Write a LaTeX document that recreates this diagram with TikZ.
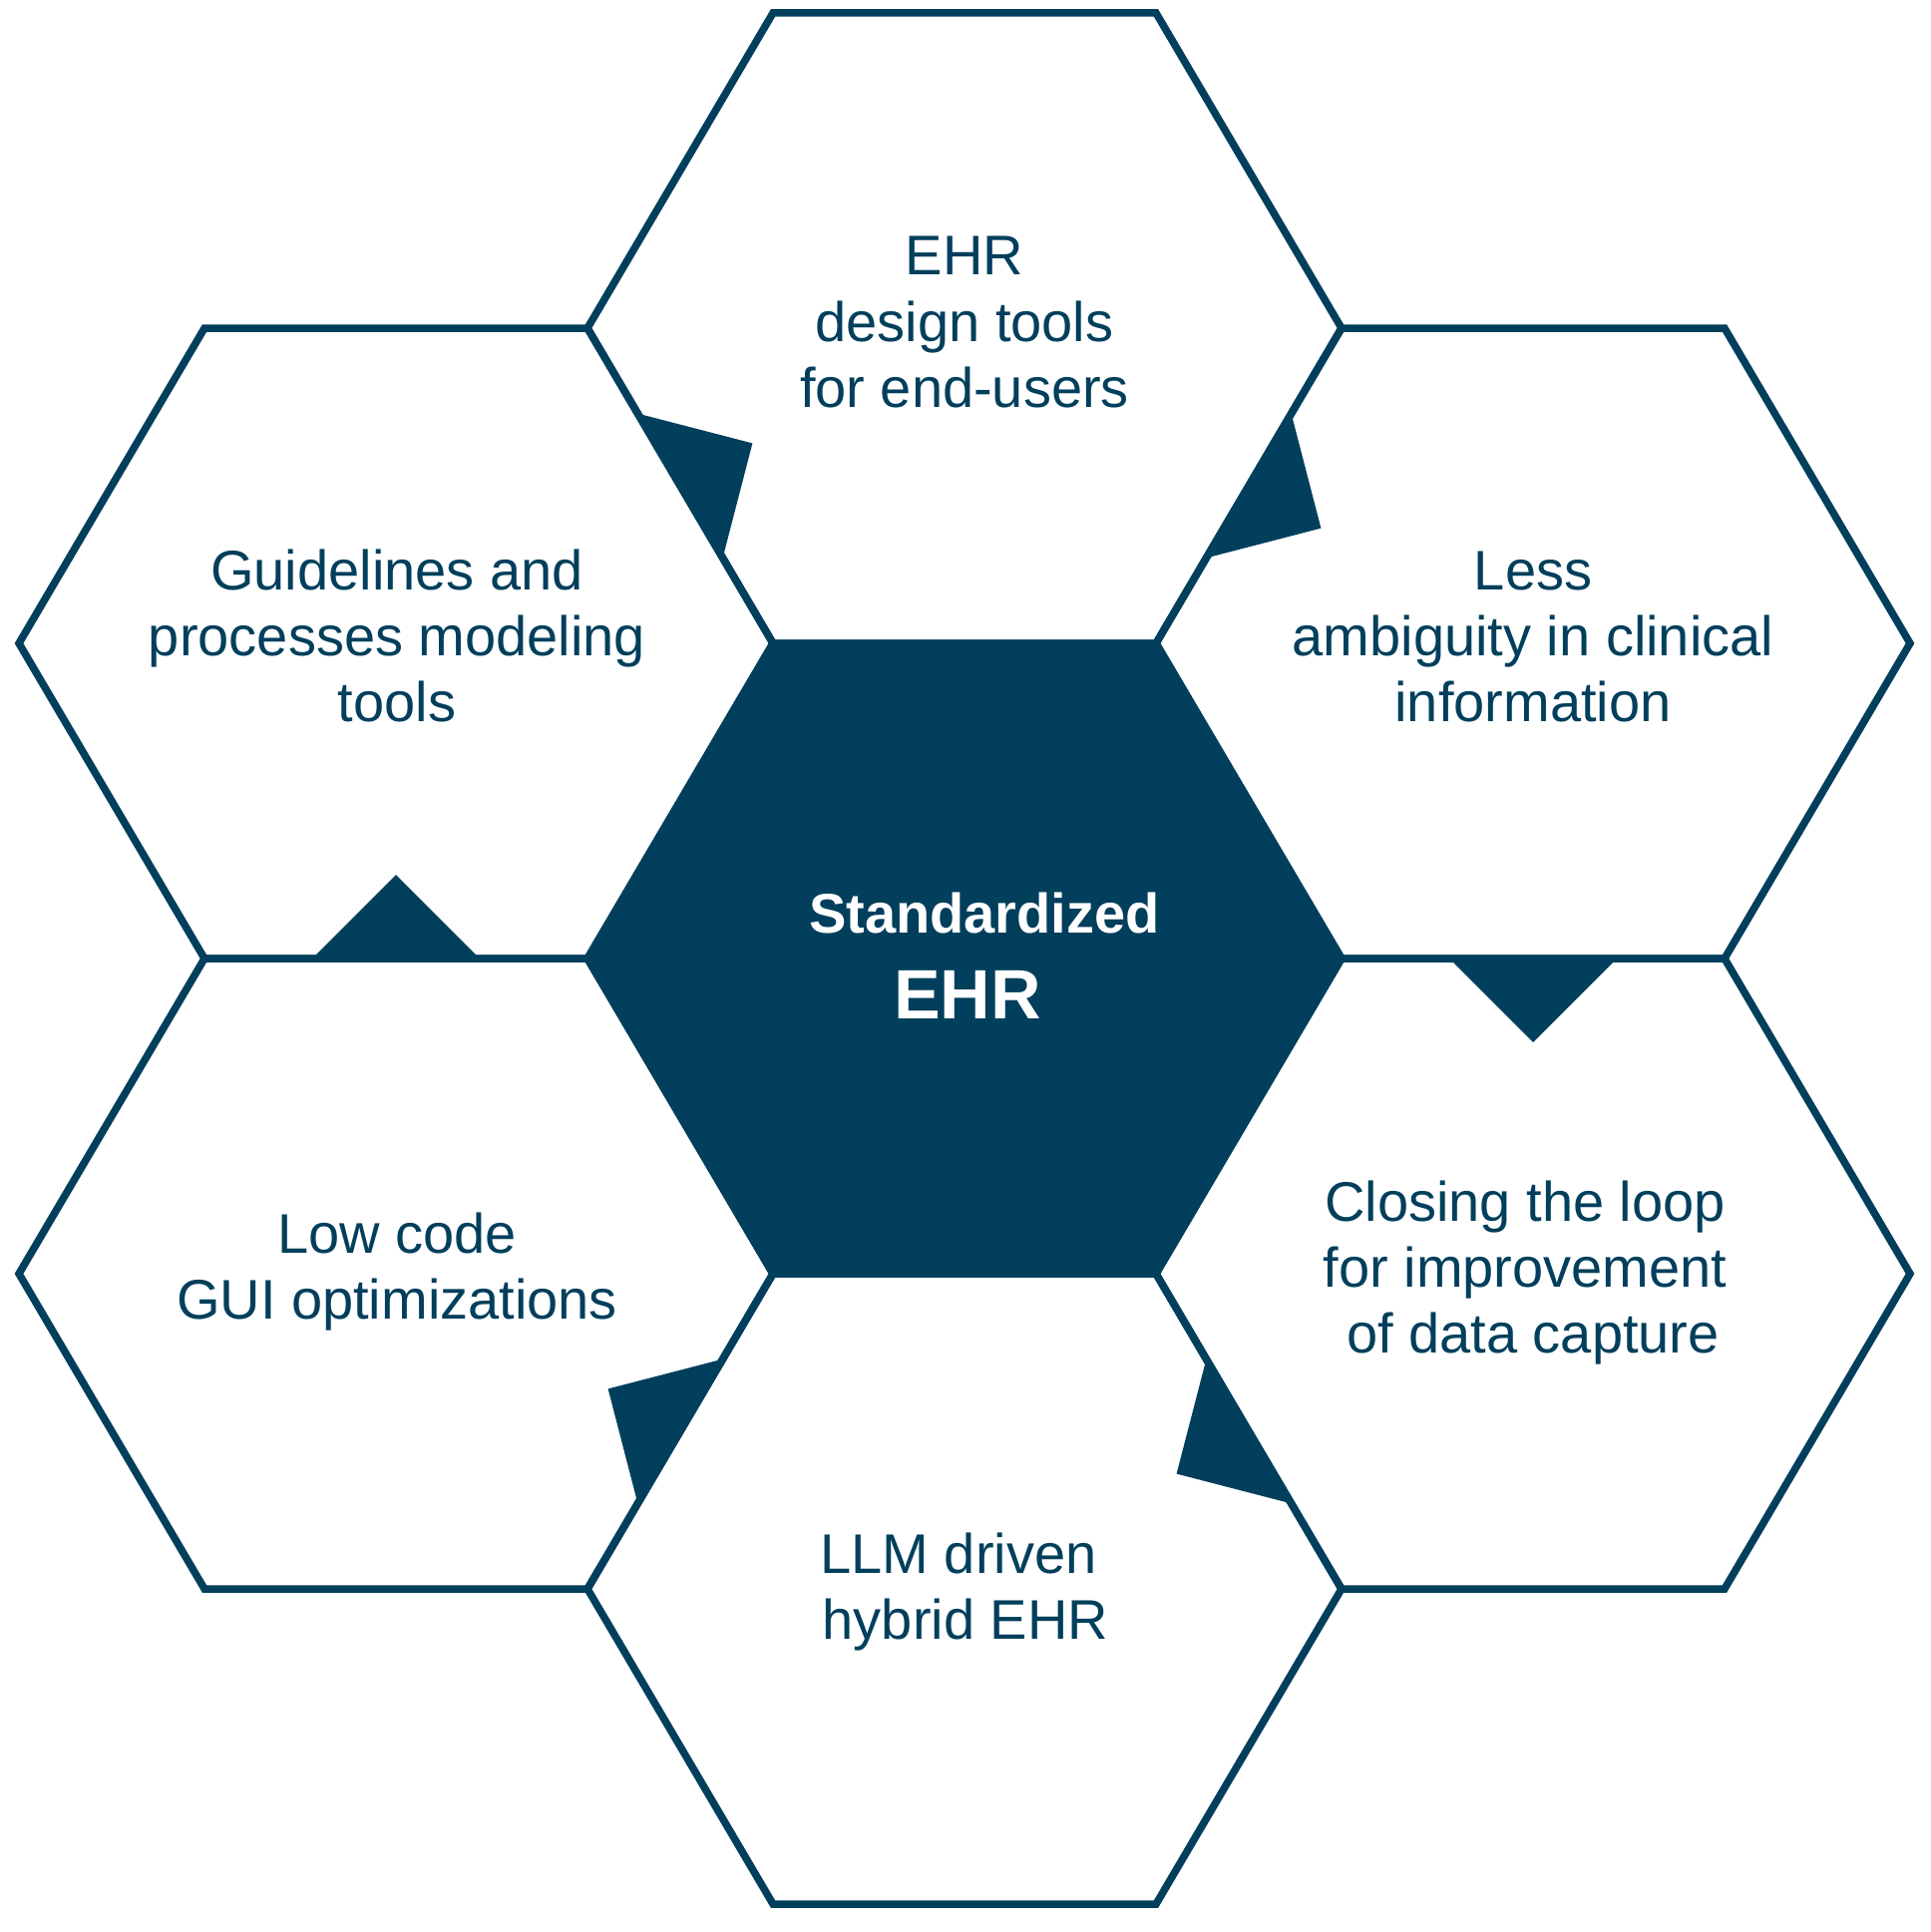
\documentclass[tikz,border=0pt]{standalone}
\usepackage{fontspec}
\setmainfont{Liberation Sans}
\definecolor{ehrblue}{HTML}{013F5C}
\begin{document}
\begin{tikzpicture}[x=1pt,y=-1pt,
  hexline/.style={draw=ehrblue,line width=7.5pt},
  hexfull/.style={draw=ehrblue,fill=ehrblue,line width=7.5pt},
  tab/.style={fill=ehrblue},
  lbl/.style={font=\fontsize{56}{66}\selectfont,text=ehrblue,anchor=base,inner sep=0pt},
  clbl/.style={font=\fontsize{56}{66}\selectfont\bfseries,text=white,anchor=base,inner sep=0pt},
  hexa/.pic={\path[pic actions] (-192,-316) -- (192,-316) -- (378,0) -- (192,316) -- (-192,316) -- (-378,0) -- cycle;}
]
\useasboundingbox (0,0) rectangle (1935,1937);
\fill[white] (0,0) rectangle (1935,1937);
% hexagons
\pic[hexfull] (hc) at (967,961) {hexa};
\pic[hexline] (ht) at (967,329) {hexa};
\pic[hexline] (hb) at (967,1593) {hexa};
\pic[hexline] (hul) at (397,645) {hexa};
\pic[hexline] (hur) at (1537,645) {hexa};
\pic[hexline] (hll) at (397,1277) {hexa};
\pic[hexline] (hlr) at (1537,1277) {hexa};
% tabs
\fill[tab] (639.4,414.6) -- (754.4,444.4) -- (724.6,559.4) -- cycle;
\fill[tab] (1294.6,414.6) -- (1324.4,529.6) -- (1209.4,559.4) -- cycle;
\fill[tab] (1453,961) -- (1537,1045) -- (1621,961) -- cycle;
\fill[tab] (1294.6,1507.4) -- (1179.6,1477.6) -- (1209.4,1362.6) -- cycle;
\fill[tab] (639.4,1507.4) -- (609.6,1392.4) -- (724.6,1362.6) -- cycle;
\fill[tab] (313,961) -- (397,877) -- (481,961) -- cycle;
% texts
\node[lbl] (t1) at (967,275) {EHR};
\node[lbl] (t2) at (967,342) {design tools};
\node[lbl] (t3) at (967,408) {for end-users};
\node[lbl] (ul1) at (398,591) {Guidelines and};
\node[lbl] (ul2) at (398,657) {processes modeling};
\node[lbl] (ul3) at (398,723) {tools};
\node[lbl] (ur1) at (1537,591) {Less};
\node[lbl] (ur2) at (1537,657) {ambiguity in clinical};
\node[lbl] (ur3) at (1537,723) {information};
\node[lbl] (ll1) at (398,1256) {Low code};
\node[lbl] (ll2) at (398,1322) {GUI optimizations};
\node[lbl] (lr1) at (1529,1224) {Closing the loop};
\node[lbl] (lr2) at (1529,1290) {for improvement};
\node[lbl] (lr3) at (1537,1356) {of data capture};
\node[lbl] (b1) at (961,1577) {LLM driven};
\node[lbl] (b2) at (968,1643) {hybrid EHR};
\node[clbl] (c1) at (987,935) {Standardized};
\node[clbl,font=\fontsize{70}{80}\selectfont\bfseries] (c2) at (970,1021) {EHR};
\end{tikzpicture}
\end{document}
